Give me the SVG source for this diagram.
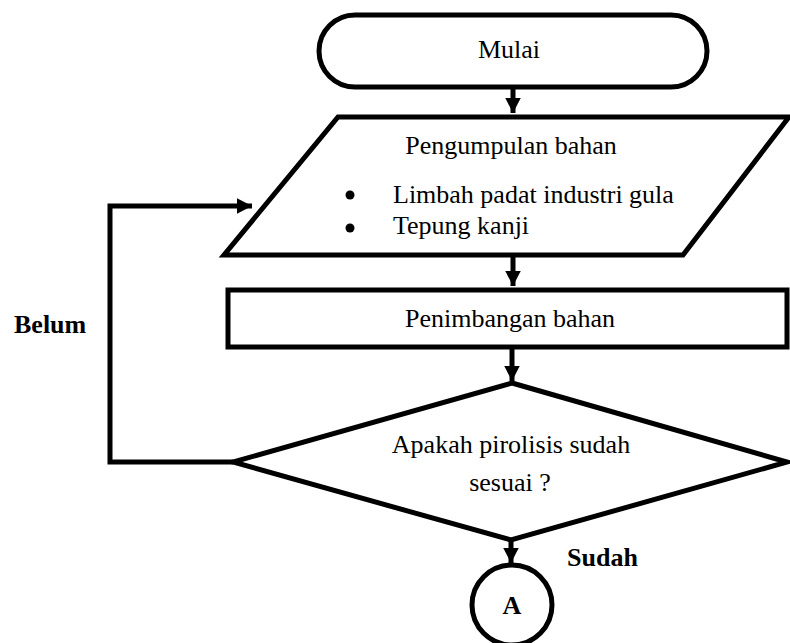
<svg xmlns="http://www.w3.org/2000/svg" width="790" height="643" viewBox="0 0 790 643">
<style>
.s{fill:#fff;stroke:#000;stroke-width:5;stroke-linejoin:miter}
.t{font-family:"Liberation Serif","Times New Roman",serif;font-size:26px;fill:#000}
.b{font-family:"Liberation Serif","Times New Roman",serif;font-size:26px;font-weight:bold;fill:#000}
.c{fill:none;stroke:#000;stroke-width:5}
</style>
<defs>
<marker id="ah" markerWidth="4" markerHeight="4" refX="3.1" refY="2" orient="auto" markerUnits="strokeWidth" viewBox="0 0 4 4">
<path d="M0,0.4 L3.1,2 L0,3.6 Z" fill="#000"/>
</marker>
</defs>
<rect width="790" height="643" fill="#fff"/>
<g id="connectors">
<line class="c" x1="513" y1="88" x2="513" y2="113" marker-end="url(#ah)"/>
<line class="c" x1="513" y1="257" x2="513" y2="286" marker-end="url(#ah)"/>
<line class="c" x1="512" y1="349" x2="512" y2="381" marker-end="url(#ah)"/>
<line class="c" x1="511" y1="541" x2="511" y2="563" marker-end="url(#ah)"/>
<polyline class="c" points="233,462 110,462 110,206 252,206" marker-end="url(#ah)"/>
</g>
<g id="mulai">
<rect class="s" x="319" y="15" width="388" height="72" rx="36" ry="36"/>
<text class="t" x="509" y="58" text-anchor="middle">Mulai</text>
</g>
<g id="pengumpulan">
<polygon class="s" points="338,117 789,117 683,255 224,255"/>
<text class="t" x="511" y="154" text-anchor="middle">Pengumpulan bahan</text>
<circle cx="350" cy="195" r="4.5" fill="#000"/>
<text class="t" x="393" y="203">Limbah padat industri gula</text>
<circle cx="350" cy="228" r="4.5" fill="#000"/>
<text class="t" x="393" y="234">Tepung kanji</text>
</g>
<g id="penimbangan">
<rect class="s" x="228" y="290" width="559" height="57"/>
<text class="t" x="510" y="327" text-anchor="middle">Penimbangan bahan</text>
</g>
<g id="keputusan">
<polygon class="s" points="512,383 787,462 511,540 233,462"/>
<text class="t" x="511" y="453" text-anchor="middle">Apakah pirolisis sudah</text>
<text class="t" x="510" y="491" text-anchor="middle">sesuai ?</text>
</g>
<g id="a">
<circle class="s" cx="512" cy="605" r="40"/>
<text class="b" x="512" y="614" text-anchor="middle">A</text>
</g>
<text class="b" x="567" y="566">Sudah</text>
<text class="b" x="14" y="333">Belum</text>
</svg>
